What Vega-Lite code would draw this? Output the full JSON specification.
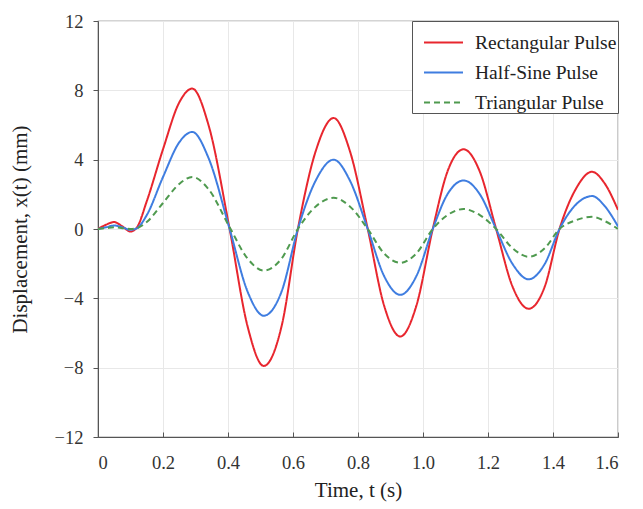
{
  "$schema": "https://vega.github.io/schema/vega-lite/v6.json",
  "width": 520,
  "height": 416,
  "autosize": "none",
  "padding": {"left": 98, "top": 21, "right": 25, "bottom": 72},
  "background": "white",
  "config": {
    "font": "Liberation Serif",
    "view": {"stroke": "#555555", "strokeWidth": 1.2},
    "axis": {
      "labelFont": "Liberation Serif",
      "titleFont": "Liberation Serif",
      "labelFontSize": 18.5,
      "titleFontSize": 21,
      "titleFontWeight": "normal",
      "labelColor": "#333333",
      "titleColor": "#222222",
      "gridColor": "#e8e8e8",
      "domainColor": "#555555",
      "tickColor": "#555555"
    },
    "legend": {
      "labelFont": "Liberation Serif",
      "labelFontSize": 19.5,
      "labelColor": "#222222"
    }
  },
  "data": {
    "values": [
      {"t": 0, "x": 0, "pulse": "Rectangular Pulse"},
      {"t": 0.025, "x": 0.25, "pulse": "Rectangular Pulse"},
      {"t": 0.05, "x": 0.4, "pulse": "Rectangular Pulse"},
      {"t": 0.075, "x": 0.15, "pulse": "Rectangular Pulse"},
      {"t": 0.1, "x": -0.15, "pulse": "Rectangular Pulse"},
      {"t": 0.12, "x": 0.1, "pulse": "Rectangular Pulse"},
      {"t": 0.15, "x": 1.6, "pulse": "Rectangular Pulse"},
      {"t": 0.2, "x": 4.6, "pulse": "Rectangular Pulse"},
      {"t": 0.25, "x": 7.3, "pulse": "Rectangular Pulse"},
      {"t": 0.29, "x": 8.1, "pulse": "Rectangular Pulse"},
      {"t": 0.34, "x": 6.0, "pulse": "Rectangular Pulse"},
      {"t": 0.405, "x": 0, "pulse": "Rectangular Pulse"},
      {"t": 0.46, "x": -5.6, "pulse": "Rectangular Pulse"},
      {"t": 0.51, "x": -7.9, "pulse": "Rectangular Pulse"},
      {"t": 0.565, "x": -5.6, "pulse": "Rectangular Pulse"},
      {"t": 0.615, "x": 0, "pulse": "Rectangular Pulse"},
      {"t": 0.67, "x": 4.5, "pulse": "Rectangular Pulse"},
      {"t": 0.725, "x": 6.4, "pulse": "Rectangular Pulse"},
      {"t": 0.775, "x": 4.5, "pulse": "Rectangular Pulse"},
      {"t": 0.83, "x": 0, "pulse": "Rectangular Pulse"},
      {"t": 0.88, "x": -4.4, "pulse": "Rectangular Pulse"},
      {"t": 0.93, "x": -6.2, "pulse": "Rectangular Pulse"},
      {"t": 0.98, "x": -4.4, "pulse": "Rectangular Pulse"},
      {"t": 1.03, "x": 0, "pulse": "Rectangular Pulse"},
      {"t": 1.075, "x": 3.3, "pulse": "Rectangular Pulse"},
      {"t": 1.125, "x": 4.6, "pulse": "Rectangular Pulse"},
      {"t": 1.175, "x": 3.3, "pulse": "Rectangular Pulse"},
      {"t": 1.225, "x": 0, "pulse": "Rectangular Pulse"},
      {"t": 1.275, "x": -3.3, "pulse": "Rectangular Pulse"},
      {"t": 1.325, "x": -4.6, "pulse": "Rectangular Pulse"},
      {"t": 1.375, "x": -3.3, "pulse": "Rectangular Pulse"},
      {"t": 1.42, "x": 0, "pulse": "Rectangular Pulse"},
      {"t": 1.47, "x": 2.3, "pulse": "Rectangular Pulse"},
      {"t": 1.52, "x": 3.3, "pulse": "Rectangular Pulse"},
      {"t": 1.56, "x": 2.6, "pulse": "Rectangular Pulse"},
      {"t": 1.6, "x": 1.1, "pulse": "Rectangular Pulse"},

      {"t": 0, "x": 0, "pulse": "Half-Sine Pulse"},
      {"t": 0.025, "x": 0.1, "pulse": "Half-Sine Pulse"},
      {"t": 0.05, "x": 0.2, "pulse": "Half-Sine Pulse"},
      {"t": 0.075, "x": 0.1, "pulse": "Half-Sine Pulse"},
      {"t": 0.1, "x": -0.05, "pulse": "Half-Sine Pulse"},
      {"t": 0.12, "x": 0.05, "pulse": "Half-Sine Pulse"},
      {"t": 0.15, "x": 0.8, "pulse": "Half-Sine Pulse"},
      {"t": 0.2, "x": 3.0, "pulse": "Half-Sine Pulse"},
      {"t": 0.25, "x": 5.0, "pulse": "Half-Sine Pulse"},
      {"t": 0.29, "x": 5.6, "pulse": "Half-Sine Pulse"},
      {"t": 0.34, "x": 4.1, "pulse": "Half-Sine Pulse"},
      {"t": 0.405, "x": 0, "pulse": "Half-Sine Pulse"},
      {"t": 0.46, "x": -3.6, "pulse": "Half-Sine Pulse"},
      {"t": 0.51, "x": -5.0, "pulse": "Half-Sine Pulse"},
      {"t": 0.565, "x": -3.6, "pulse": "Half-Sine Pulse"},
      {"t": 0.615, "x": 0, "pulse": "Half-Sine Pulse"},
      {"t": 0.67, "x": 2.8, "pulse": "Half-Sine Pulse"},
      {"t": 0.725, "x": 4.0, "pulse": "Half-Sine Pulse"},
      {"t": 0.775, "x": 2.8, "pulse": "Half-Sine Pulse"},
      {"t": 0.83, "x": 0, "pulse": "Half-Sine Pulse"},
      {"t": 0.88, "x": -2.7, "pulse": "Half-Sine Pulse"},
      {"t": 0.93, "x": -3.8, "pulse": "Half-Sine Pulse"},
      {"t": 0.98, "x": -2.7, "pulse": "Half-Sine Pulse"},
      {"t": 1.03, "x": 0, "pulse": "Half-Sine Pulse"},
      {"t": 1.075, "x": 2.0, "pulse": "Half-Sine Pulse"},
      {"t": 1.125, "x": 2.8, "pulse": "Half-Sine Pulse"},
      {"t": 1.175, "x": 2.0, "pulse": "Half-Sine Pulse"},
      {"t": 1.225, "x": 0, "pulse": "Half-Sine Pulse"},
      {"t": 1.275, "x": -2.0, "pulse": "Half-Sine Pulse"},
      {"t": 1.325, "x": -2.9, "pulse": "Half-Sine Pulse"},
      {"t": 1.375, "x": -2.0, "pulse": "Half-Sine Pulse"},
      {"t": 1.42, "x": 0, "pulse": "Half-Sine Pulse"},
      {"t": 1.47, "x": 1.4, "pulse": "Half-Sine Pulse"},
      {"t": 1.52, "x": 1.9, "pulse": "Half-Sine Pulse"},
      {"t": 1.56, "x": 1.3, "pulse": "Half-Sine Pulse"},
      {"t": 1.6, "x": 0.15, "pulse": "Half-Sine Pulse"},

      {"t": 0, "x": 0, "pulse": "Triangular Pulse"},
      {"t": 0.025, "x": 0.05, "pulse": "Triangular Pulse"},
      {"t": 0.05, "x": 0.1, "pulse": "Triangular Pulse"},
      {"t": 0.075, "x": 0.05, "pulse": "Triangular Pulse"},
      {"t": 0.1, "x": 0, "pulse": "Triangular Pulse"},
      {"t": 0.12, "x": 0.05, "pulse": "Triangular Pulse"},
      {"t": 0.15, "x": 0.4, "pulse": "Triangular Pulse"},
      {"t": 0.2, "x": 1.5, "pulse": "Triangular Pulse"},
      {"t": 0.25, "x": 2.6, "pulse": "Triangular Pulse"},
      {"t": 0.29, "x": 3.0, "pulse": "Triangular Pulse"},
      {"t": 0.34, "x": 2.3, "pulse": "Triangular Pulse"},
      {"t": 0.405, "x": 0.1, "pulse": "Triangular Pulse"},
      {"t": 0.46, "x": -1.7, "pulse": "Triangular Pulse"},
      {"t": 0.51, "x": -2.4, "pulse": "Triangular Pulse"},
      {"t": 0.565, "x": -1.7, "pulse": "Triangular Pulse"},
      {"t": 0.615, "x": 0, "pulse": "Triangular Pulse"},
      {"t": 0.67, "x": 1.3, "pulse": "Triangular Pulse"},
      {"t": 0.725, "x": 1.8, "pulse": "Triangular Pulse"},
      {"t": 0.775, "x": 1.3, "pulse": "Triangular Pulse"},
      {"t": 0.83, "x": 0, "pulse": "Triangular Pulse"},
      {"t": 0.88, "x": -1.4, "pulse": "Triangular Pulse"},
      {"t": 0.93, "x": -1.95, "pulse": "Triangular Pulse"},
      {"t": 0.98, "x": -1.4, "pulse": "Triangular Pulse"},
      {"t": 1.03, "x": 0, "pulse": "Triangular Pulse"},
      {"t": 1.075, "x": 0.8, "pulse": "Triangular Pulse"},
      {"t": 1.125, "x": 1.15, "pulse": "Triangular Pulse"},
      {"t": 1.175, "x": 0.8, "pulse": "Triangular Pulse"},
      {"t": 1.225, "x": 0, "pulse": "Triangular Pulse"},
      {"t": 1.275, "x": -1.1, "pulse": "Triangular Pulse"},
      {"t": 1.325, "x": -1.6, "pulse": "Triangular Pulse"},
      {"t": 1.375, "x": -1.1, "pulse": "Triangular Pulse"},
      {"t": 1.42, "x": 0, "pulse": "Triangular Pulse"},
      {"t": 1.47, "x": 0.5, "pulse": "Triangular Pulse"},
      {"t": 1.52, "x": 0.7, "pulse": "Triangular Pulse"},
      {"t": 1.56, "x": 0.45, "pulse": "Triangular Pulse"},
      {"t": 1.6, "x": 0.0, "pulse": "Triangular Pulse"}
    ]
  },
  "mark": {"type": "line", "interpolate": "monotone", "strokeWidth": 2, "clip": true},
  "encoding": {
    "x": {
      "field": "t",
      "type": "quantitative",
      "scale": {"domain": [0, 1.6], "nice": false},
      "axis": {
        "title": "Time, t (s)",
        "values": [0, 0.2, 0.4, 0.6, 0.8, 1.0, 1.2, 1.4, 1.6],
        "labelExpr": "datum.value == 0 ? '0' : format(datum.value, '.1f')",
        "tickSize": -5,
        "labelPadding": 21,
        "titlePadding": 8
      }
    },
    "y": {
      "field": "x",
      "type": "quantitative",
      "scale": {"domain": [-12, 12], "nice": false},
      "axis": {
        "title": "Displacement, x(t) (mm)",
        "values": [-12, -8, -4, 0, 4, 8, 12],
        "tickSize": 5,
        "labelPadding": 10,
        "titlePadding": 24
      }
    },
    "color": {
      "field": "pulse",
      "type": "nominal",
      "scale": {
        "domain": ["Rectangular Pulse", "Half-Sine Pulse", "Triangular Pulse"],
        "range": ["#e8262e", "#3f7de0", "#4f9a4f"]
      },
      "legend": {
        "title": null,
        "orient": "top-right",
        "offset": 0,
        "strokeColor": "#555555",
        "fillColor": "white",
        "padding": 1,
        "symbolType": "stroke",
        "symbolSize": 1521,
        "symbolStrokeWidth": 2,
        "symbolOffset": 10,
        "rowPadding": -13,
        "labelOffset": 11
      }
    },
    "strokeDash": {
      "field": "pulse",
      "type": "nominal",
      "scale": {
        "domain": ["Rectangular Pulse", "Half-Sine Pulse", "Triangular Pulse"],
        "range": [[1, 0], [1, 0], [6, 4]]
      },
      "legend": {
        "title": null,
        "orient": "top-right",
        "offset": 0,
        "strokeColor": "#555555",
        "fillColor": "white",
        "padding": 1,
        "symbolType": "stroke",
        "symbolSize": 1521,
        "symbolStrokeWidth": 2,
        "symbolOffset": 10,
        "rowPadding": -13,
        "labelOffset": 11
      }
    }
  }
}
